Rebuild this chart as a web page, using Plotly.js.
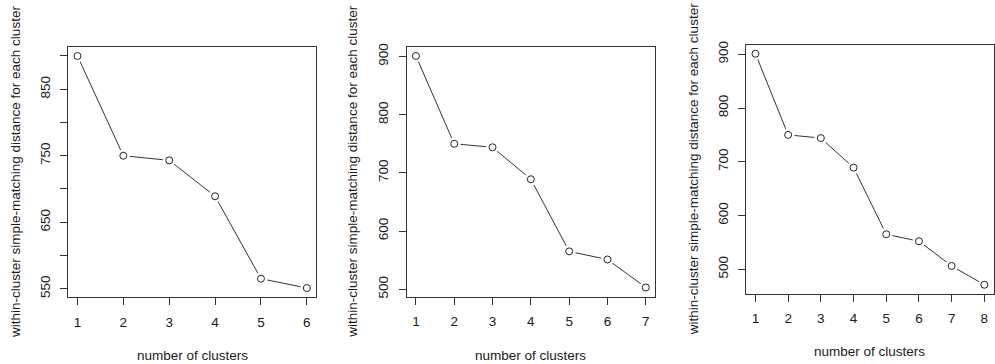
<!DOCTYPE html>
<html>
<head>
<meta charset="utf-8">
<script src="https://cdn.plot.ly/plotly-3.0.1.min.js"></script>
<style>
html,body{margin:0;padding:0;background:#fff;}
#chart{width:995px;height:364px;}
</style>
</head>
<body>
<div id="chart"></div>
<script>
// ---- data ----
const k6 = [1, 2, 3, 4, 5, 6];
const wss6 = [900, 750, 743, 689, 565, 551];
const k7 = [1, 2, 3, 4, 5, 6, 7];
const wss7 = [901, 750, 744, 689, 565, 551, 503];
const k8 = [1, 2, 3, 4, 5, 6, 7, 8];
const wss8 = [901, 750, 744, 689, 565, 552, 506, 471];

const yTicks1 = [550, 600, 650, 700, 750, 800, 850, 900];
const yTickText1 = ['550', '', '650', '', '750', '', '850', ''];
const yTicks2 = [500, 600, 700, 800, 900];
const yTickText2 = ['500', '600', '700', '800', '900'];
const yTicks3 = [500, 600, 700, 800, 900];
const yTickText3 = ['500', '600', '700', '800', '900'];

const xTitle = 'number of clusters';
const yTitle = 'within-cluster simple-matching distance for each cluster';

// ---- layout helpers ----
const W = 995, H = 364;
const FONT = 'Liberation Sans, Arial, sans-serif';
const INK = '#1a1a1a';
const FS = 13.5;

function ext(arr) { // R-style 4% range extension
  const lo = Math.min(...arr), hi = Math.max(...arr);
  const d = (hi - lo) * 0.04;
  return [lo - d, hi + d];
}

const panels = [
  {k: k6, y: wss6, yt: yTicks1, ytt: yTickText1, box: [68.3, 316, 46.7, 297.3], yTitleX: 15, xTitleY: 355},
  {k: k7, y: wss7, yt: yTicks2, ytt: yTickText2, box: [406.7, 655, 46.7, 296.7], yTitleX: 353, xTitleY: 355},
  {k: k8, y: wss8, yt: yTicks3, ytt: yTickText3, box: [746.3, 993.5, 44.5, 294], yTitleX: 693, xTitleY: 351}
];

const data = [];
const layout = {
  width: W, height: H,
  margin: {l: 0, r: 0, t: 0, b: 0},
  paper_bgcolor: '#fff', plot_bgcolor: '#fff',
  showlegend: false,
  font: {family: FONT, size: FS, color: INK},
  annotations: []
};

panels.forEach((p, i) => {
  const n = i === 0 ? '' : String(i + 1);
  const xa = 'x' + n, ya = 'y' + n;
  // line
  data.push({x: p.k, y: p.y, xaxis: xa, yaxis: ya, type: 'scatter', mode: 'lines',
    line: {color: '#333', width: 1}, hoverinfo: 'skip'});
  // gap around points (R type="b")
  data.push({x: p.k, y: p.y, xaxis: xa, yaxis: ya, type: 'scatter', mode: 'markers',
    marker: {symbol: 'circle', size: 13, color: '#fff', line: {width: 0}}, hoverinfo: 'skip'});
  // open circles
  data.push({x: p.k, y: p.y, xaxis: xa, yaxis: ya, type: 'scatter', mode: 'markers',
    marker: {symbol: 'circle-open', size: 7, color: '#222', line: {width: 1, color: '#222'}}});

  const [l, r, t, b] = p.box;
  const xr = ext(p.k), yr = ext(p.y);
  layout['xaxis' + n] = {
    domain: [l / W, r / W], anchor: ya, range: xr,
    showgrid: false, zeroline: false,
    showline: true, mirror: true, linecolor: '#333', linewidth: 1,
    ticks: 'outside', ticklen: 7, tickwidth: 1, tickcolor: '#333',
    tickmode: 'array', tickvals: p.k, ticktext: p.k.map(String),
    tickfont: {family: FONT, size: FS, color: INK}, ticklabelstandoff: 5
  };
  layout['yaxis' + n] = {
    domain: [1 - b / H, 1 - t / H], anchor: xa, range: yr,
    showgrid: false, zeroline: false,
    showline: true, mirror: true, linecolor: '#333', linewidth: 1,
    ticks: 'outside', ticklen: 7, tickwidth: 1, tickcolor: '#333',
    tickmode: 'array', tickvals: p.yt, ticktext: p.ytt, tickangle: -90,
    tickfont: {family: FONT, size: FS, color: INK}, ticklabelstandoff: 5
  };
  layout.annotations.push({
    text: xTitle, xref: 'paper', yref: 'paper',
    x: (l + r) / 2 / W, y: 1 - p.xTitleY / H, xanchor: 'center', yanchor: 'middle',
    showarrow: false, font: {family: FONT, size: FS, color: INK}
  });
  layout.annotations.push({
    text: yTitle, xref: 'paper', yref: 'paper',
    x: p.yTitleX / W, y: 1 - (t + b) / 2 / H, xanchor: 'center', yanchor: 'middle',
    textangle: -90, showarrow: false, font: {family: FONT, size: FS, color: INK}
  });
});

Plotly.newPlot('chart', data, layout, {displayModeBar: false, staticPlot: true});
</script>
</body>
</html>
